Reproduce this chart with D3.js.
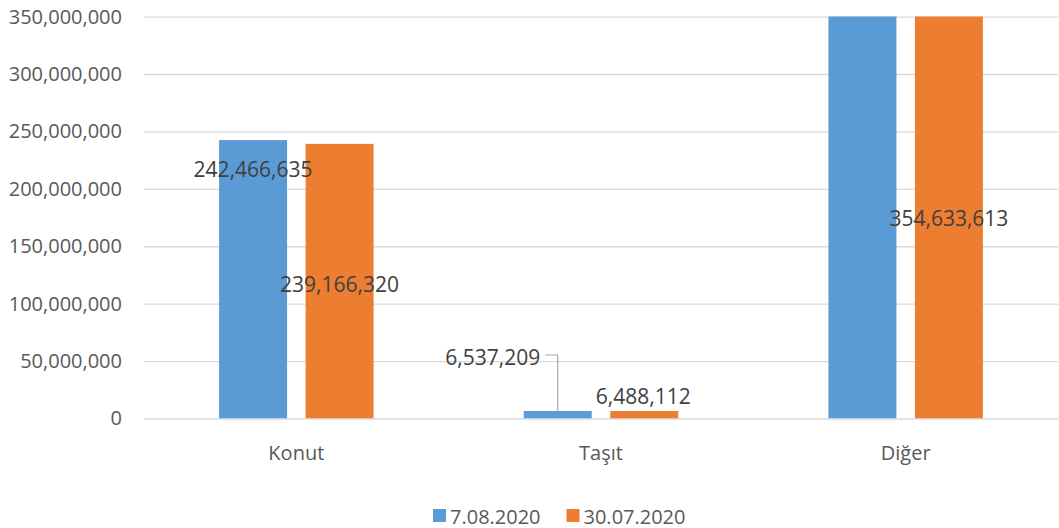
<!DOCTYPE html>
<meta charset="utf-8">
<style type="text/css">
    body { margin: 0; background: #ffffff; }
    svg text { font-family: "Open Sans", "Liberation Sans", sans-serif; }
</style>
<svg width="1059" height="528"></svg>
<script type="text/javascript" src="https://cdn.jsdelivr.net/npm/d3@7/dist/d3.min.js"></script>
<script type="text/javascript">

    // data
    let categories = [`Konut`, `Taşıt`, `Diğer`];
    let seriesNames = [`7.08.2020`, `30.07.2020`];
    let values0708 = [242466635, 6537209, 357000000];   // Diğer blue is cut off, estimated
    let values3007 = [239166320, 6488112, 354633613];
    let yTicks = [0, 50000000, 100000000, 150000000, 200000000, 250000000, 300000000, 350000000];

    // label placement (Excel labels were dragged by hand) : [dx, dy] from bar top center, null = hidden
    let labelOffsets = [
        [[0, 29], [-65, -54], null],
        [[0, 140], [-1, -15], [0, 207]]
    ];

    let colors = [`#5B9BD5`, `#ED7D31`];

    // note: "top" is taken by window.top, so use other names
    var svg = d3.select("svg"),
        plotL = 144, plotR = 1058, plotT = 16.6, plotB = 418.5;

    var x = d3.scaleBand().domain(categories).range([plotL, plotR])
        .paddingInner(0.493).paddingOuter(0.2465);
    var xs = d3.scaleBand().domain(d3.range(seriesNames.length)).range([0, x.bandwidth()])
        .paddingInner(0.214).paddingOuter(0);
    var y = d3.scaleLinear().domain([0, 350000000]).range([plotB, plotT]);
    var fmt = d3.format(",");

    // gridlines + labels
    var yAxis = d3.axisLeft(y).tickValues(yTicks).tickFormat(fmt).tickSize(-(plotR - plotL)).tickPadding(22);
    var ga = svg.append("g").attr("transform", "translate(" + plotL + ",0)").call(yAxis);
    ga.select(".domain").remove();
    ga.selectAll(".tick line").attr("stroke", "#D9D9D9").attr("stroke-width", 1.3);
    ga.selectAll(".tick text").attr("fill", "#595959").attr("font-size", 20).attr("font-family", null);

    svg.append("clipPath").attr("id", "plot")
        .append("rect").attr("x", plotL).attr("y", plotT).attr("width", plotR - plotL).attr("height", plotB - plotT);

    let series = [values0708, values3007];
    let barData = [];
    series.forEach(function(vals, s) {
        vals.forEach(function(v, i) {
            barData.push({ s: s, cat: categories[i], i: i, v: v });
        });
    });

    svg.append("g").attr("clip-path", "url(#plot)")
        .selectAll("rect").data(barData).enter().append("rect")
        .attr("x", function(d) { return x(d.cat) + xs(d.s); })
        .attr("y", function(d) { return y(d.v); })
        .attr("width", xs.bandwidth())
        .attr("height", function(d) { return plotB - y(d.v); })
        .attr("fill", function(d) { return colors[d.s]; });

    // data labels
    var gl = svg.append("g");
    barData.forEach(function(d) {
        let off = labelOffsets[d.s][d.i];
        if (!off) return;
        let cx = x(d.cat) + xs(d.s) + xs.bandwidth() / 2;
        let t = gl.append("text")
            .attr("x", cx + off[0])
            .attr("y", y(d.v) + off[1])
            .attr("text-anchor", "middle")
            .attr("dominant-baseline", "central")
            .attr("fill", "#404040")
            .attr("font-size", 21)
            .text(fmt(d.v));
        // leader line for the label moved far from its bar
        if (Math.abs(off[0]) > 20) {
            let bb = t.node().getBBox();
            let ly = y(d.v) + off[1] - 2;
            gl.append("path")
                .attr("d", "M" + (bb.x + bb.width + 5) + "," + ly + "H" + cx + "V" + y(d.v))
                .attr("fill", "none").attr("stroke", "#A6A6A6").attr("stroke-width", 1.2);
        }
    });

    // category labels
    svg.append("g").selectAll("text").data(categories).enter().append("text")
        .attr("x", function(d) { return x(d) + x.bandwidth() / 2; })
        .attr("y", 452)
        .attr("text-anchor", "middle")
        .attr("dominant-baseline", "central")
        .attr("fill", "#595959")
        .attr("font-size", 20)
        .text(function(d) { return d; });

    // legend
    var lg = svg.append("g");
    let legX = [433, 566.5];
    seriesNames.forEach(function(n, s) {
        lg.append("rect").attr("x", legX[s]).attr("y", 509).attr("width", 13).attr("height", 13).attr("fill", colors[s]);
        lg.append("text").attr("x", legX[s] + 17).attr("y", 516)
            .attr("dominant-baseline", "central")
            .attr("fill", "#595959").attr("font-size", 20).text(n);
    });

</script>
